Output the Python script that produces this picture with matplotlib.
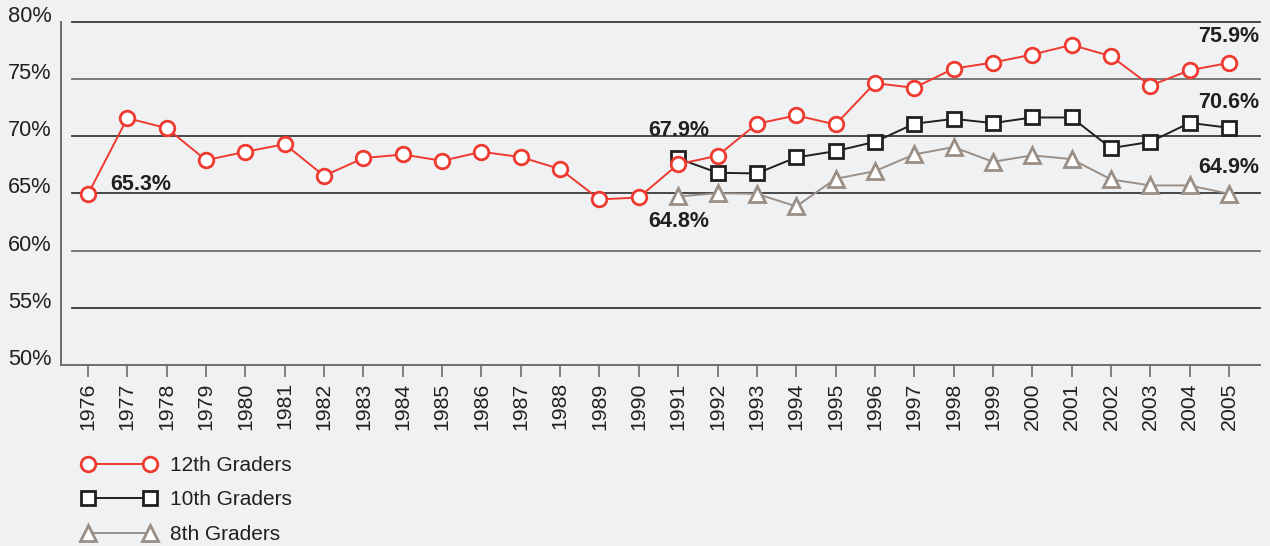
import matplotlib
matplotlib.use("Agg")
import matplotlib.pyplot as plt
from matplotlib.lines import Line2D

plt.rcParams['font.family'] = ['Liberation Sans', 'DejaVu Sans']

years = list(range(1976, 2006))
grade12 = [64.93, 71.57, 70.70, 67.90, 68.63, 69.30, 66.53, 68.08, 68.40, 67.84,
           68.63, 68.17, 67.12, 64.47, 64.64, 67.55, 68.28, 71.08, 71.81, 71.02,
           74.63, 74.22, 75.90, 76.43, 77.13, 77.97, 76.99, 74.42, 75.76, 76.40]
years_10 = list(range(1991, 2006))
grade10 = [68.05, 66.80, 66.74, 68.14, 68.69, 69.50, 71.08, 71.51, 71.14, 71.63,
           71.63, 68.95, 69.50, 71.16, 70.73]
years_8 = list(range(1991, 2006))
grade8 = [64.73, 65.01, 64.96, 63.86, 66.27, 66.94, 68.40, 69.04, 67.76, 68.32,
          67.99, 66.22, 65.69, 65.69, 64.96]
yticks = [50, 55, 60, 65, 70, 75, 80]
labels = [("65.3%", 1976.56, 65.81, 'left'),
          ("67.9%", 1991.01, 70.52, 'center'),
          ("64.8%", 1991.01, 62.52, 'center'),
          ("75.9%", 2005.77, 78.73, 'right'),
          ("70.6%", 2005.77, 72.91, 'right'),
          ("64.9%", 2005.77, 67.23, 'right')]

BG = '#f0f1f3'
RED = '#ee3a2f'
DARK = '#231f20'
GRAY = '#9a8f86'

W, H = 1270, 546
fig = plt.figure(figsize=(W/100, H/100), dpi=100, facecolor=BG)
ax = fig.add_axes([61/W, 1-365/H, (1260-61)/W, (365-21.7)/H])
ax.set_facecolor(BG)

x0 = 1976 - (88-61)/39.34
x1 = 2005 + (1260-1229)/39.34
ax.set_xlim(x0, x1)
ax.set_ylim(50, 80)

gfrac = (72-61)/(1260-61)
gcols = {55: '#3a3a3a', 60: '#707070', 65: '#3a3a3a', 70: '#3a3a3a', 75: '#707070', 80: '#3a3a3a'}
for v in yticks[1:]:
    ax.axhline(v, xmin=gfrac, xmax=1, color=gcols[v], lw=1.3, zorder=1, clip_on=False)

for s in ['top', 'right']:
    ax.spines[s].set_visible(False)
ax.spines['left'].set_color('#6d6d6d')
ax.spines['left'].set_linewidth(1.4)
ax.spines['bottom'].set_color('#6d6d6d')
ax.spines['bottom'].set_linewidth(1.4)

ax.set_xticks(years)
ax.set_xticklabels([str(y) for y in years], rotation=90, fontsize=15.3, color=DARK)
ax.tick_params(axis='x', direction='out', length=8.5, width=1.2, color='#6d6d6d', pad=4)
ax.set_yticks(yticks)
ax.set_yticklabels([f"{v}%" for v in yticks], fontsize=15.7, color=DARK)
ax.tick_params(axis='y', length=0, pad=7)
for t in ax.get_yticklabels():
    t.set_va('baseline')

ax.plot(years_8, grade8, color=GRAY, lw=1.4, marker='^', ms=11, mfc='white',
        mec=GRAY, mew=2.0, zorder=3, clip_on=False)
ax.plot(years_10, grade10, color=DARK, lw=1.4, marker='s', ms=9.5, mfc='white',
        mec=DARK, mew=2.0, zorder=4, clip_on=False)
ax.plot(years, grade12, color=RED, lw=1.4, marker='o', ms=10.5, mfc='white',
        mec=RED, mew=2.0, zorder=5, clip_on=False)

for txt, x, y, ha in labels:
    ax.text(x, y, txt, ha=ha, va='center', fontsize=15.5, fontweight='bold',
            color=DARK, zorder=6)

handles = [
    Line2D([], [], color=RED, lw=1.4, marker='o', ms=10.5, mfc='white', mec=RED, mew=2.0),
    Line2D([], [], color=DARK, lw=1.4, marker='s', ms=9.5, mfc='white', mec=DARK, mew=2.0),
    Line2D([], [], color=GRAY, lw=1.4, marker='^', ms=11, mfc='white', mec=GRAY, mew=2.0),
]
leg = fig.legend(handles, ['12th Graders', '10th Graders', '8th Graders'],
                 loc='upper left', bbox_to_anchor=(82/W, 1-456/H), frameon=False,
                 numpoints=2, handlelength=3.56, handletextpad=0.67, labelspacing=0.74,
                 fontsize=15, borderaxespad=0, borderpad=0)
for t in leg.get_texts():
    t.set_color(DARK)

fig.savefig('out.png', dpi=100, facecolor=BG)
